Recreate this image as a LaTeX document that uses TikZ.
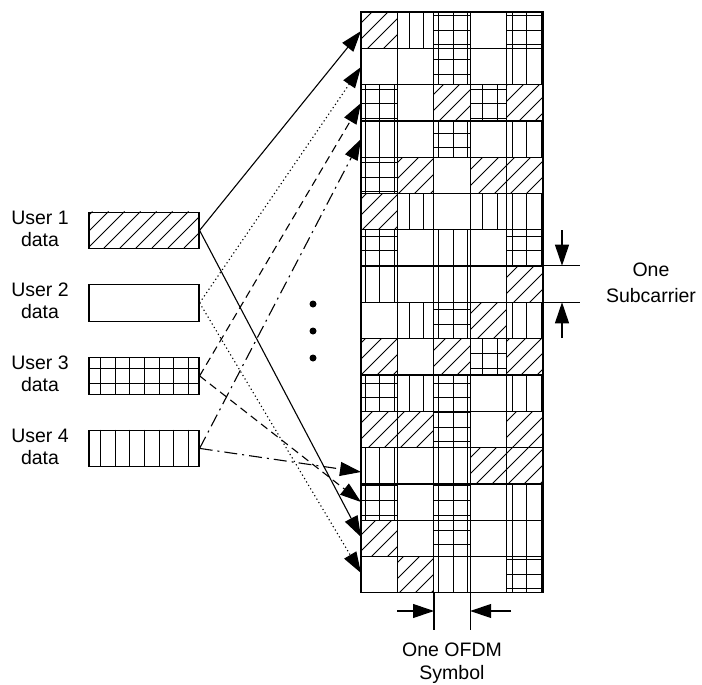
\documentclass[tikz,border=0pt]{standalone}
\usepackage{fontspec}
\setmainfont{Liberation Sans}
\usetikzlibrary{arrows.meta}
\tikzset{
  cellbox/.style={draw=black, line width=1.3pt},
  patline/.style={draw=black, line width=0.9pt},
  userbox/.style={draw=black, line width=1.3pt, minimum width=110pt, minimum height=36.5pt, inner sep=0pt},
  tip/.style={-{Triangle[length=21pt,width=14pt]}},
  link/.style={line width=1.1pt, tip},
  solidlink/.style={link},
  dotlink/.style={link, dash pattern=on 1.2pt off 2.8pt},
  dashlink/.style={link, dash pattern=on 8pt off 5pt},
  dashdotlink/.style={link, dash pattern=on 13pt off 5pt on 2pt off 5pt},
  marker/.style={line width=1.1pt},
  lbl/.style={align=center, inner sep=0pt, font=\fontsize{19.5}{22}\selectfont},
  dotmark/.style={circle, fill=black, inner sep=0pt, minimum size=7pt}
}
% vertical pattern lines on a global lattice x = 365 + 14.7k
\newcommand\patVert[4]{%
  \begin{scope}
    \clip (#1,#2) rectangle ++(#3,#4);
    \pgfmathtruncatemacro\ka{floor((#1-365)/14.7)}%
    \pgfmathtruncatemacro\kb{ceil((#1+#3-365)/14.7)}%
    \foreach \k in {\ka,...,\kb}{\draw[patline] ({365+14.7*\k},#2) -- ++(0,#4);}
  \end{scope}}
% horizontal pattern lines on a global lattice y = 383 + 14.7k
\newcommand\patHoriz[4]{%
  \begin{scope}
    \clip (#1,#2) rectangle ++(#3,#4);
    \pgfmathtruncatemacro\ka{floor((#2-383)/14.7)}%
    \pgfmathtruncatemacro\kb{ceil((#2+#4-383)/14.7)}%
    \foreach \k in {\ka,...,\kb}{\draw[patline] (#1,{383+14.7*\k}) -- ++(#3,0);}
  \end{scope}}
% diagonal hatching x + y = 16k
\newcommand\patDiag[4]{%
  \begin{scope}
    \clip (#1,#2) rectangle ++(#3,#4);
    \pgfmathtruncatemacro\ka{floor((#1+#2)/16)}%
    \pgfmathtruncatemacro\kb{ceil((#1+#3+#2+#4)/16)}%
    \foreach \k in {\ka,...,\kb}{\draw[patline] ({16*\k-#2-#4},{#2+#4}) -- ({16*\k-#2},#2);}
  \end{scope}}
\newcommand\cellH[4]{\patDiag{#1}{#2}{#3}{#4}}
\newcommand\cellV[4]{\patVert{#1}{#2}{#3}{#4}}
\newcommand\cellG[4]{\patVert{#1}{#2}{#3}{#4}\patHoriz{#1}{#2}{#3}{#4}}
\newcommand\cellB[4]{}
\begin{document}
\begin{tikzpicture}[x=1pt, y=-1pt]
\useasboundingbox (0,0) rectangle (702,685);

% ---------- resource grid ----------
\foreach \t [count=\n from 0] in {%
H,V,G,B,G,%
B,B,G,B,V,%
G,B,H,G,H,%
V,B,G,B,V,%
G,H,B,H,H,%
H,V,B,V,V,%
G,B,V,B,G,%
V,B,V,B,H,%
B,V,G,H,V,%
H,B,H,G,H,%
G,V,G,B,V,%
H,H,G,B,H,%
V,B,V,H,H,%
G,B,G,B,V,%
H,B,G,B,V,%
B,H,V,B,G}{%
  \pgfmathtruncatemacro\rr{floor(\n/5)}%
  \pgfmathtruncatemacro\cc{mod(\n,5)}%
  \pgfmathsetmacro\cx{361+36.4*\cc}%
  \pgfmathsetmacro\cy{12+36.3*\rr}%
  \csname cell\t\endcsname{\cx}{\cy}{36.4}{36.3}%
  \draw[cellbox] (\cx,\cy) rectangle ++(36.4,36.3);
}
\draw[cellbox] (361,12) rectangle (543,592.8);

% ---------- user data boxes ----------
\cellH{88.3}{211.5}{110}{36.5}
\cellG{88.3}{357}{110}{36.5}
\cellV{88.3}{429.5}{110}{36.5}
\node[userbox, anchor=north west] (box1) at (88.3,211.5) {};
\node[userbox, anchor=north west] (box2) at (88.3,284) {};
\node[userbox, anchor=north west] (box3) at (88.3,357) {};
\node[userbox, anchor=north west] (box4) at (88.3,429.5) {};

\node[lbl] (lab1) at (40,228.5) {User 1\\data};
\node[lbl] (lab2) at (40,301) {User 2\\data};
\node[lbl] (lab3) at (40,374) {User 3\\data};
\node[lbl] (lab4) at (40,446.5) {User 4\\data};

% ---------- target points on the grid ----------
\coordinate (t0) at (361,31);
\coordinate (t1) at (361,67);
\coordinate (t2) at (361,103);
\coordinate (t3) at (361,139);
\coordinate (t12) at (361,472);
\coordinate (t13) at (361,502);
\coordinate (t14) at (361,537);
\coordinate (t15) at (361,573);

\draw[solidlink] (box1.east) -- (t0);
\draw[solidlink] (box1.east) -- (t14);
\draw[dotlink] (box2.east) -- (t1);
\draw[dotlink] (box2.east) -- (t15);
\draw[dashlink] (box3.east) -- (t2);
\draw[dashlink] (box3.east) -- (t13);
\draw[dashdotlink] (box4.east) -- (t3);
\draw[dashdotlink] (box4.east) -- (t12);

% ---------- vertical ellipsis ----------
\node[dotmark] (d1) at (313,304) {};
\node[dotmark] (d2) at (313,331) {};
\node[dotmark] (d3) at (313,358) {};

% ---------- one subcarrier ----------
\coordinate (sa) at (543,265.7);
\coordinate (sae) at (580,265.7);
\coordinate (sb) at (543,302.3);
\coordinate (sbe) at (580,302.3);
\coordinate (sat) at (562,230);
\coordinate (sah) at (562,265.7);
\coordinate (sbt) at (562,338);
\coordinate (sbh) at (562,302.3);
\draw[marker] (sa) -- (sae);
\draw[marker] (sb) -- (sbe);
\draw[marker, tip] (sat) -- (sah);
\draw[marker, tip] (sbt) -- (sbh);
\node[lbl, font=\fontsize{19.5}{26}\selectfont] (sclabel) at (651,282.6) {One\\Subcarrier};

% ---------- one OFDM symbol ----------
\coordinate (oa) at (434,592.8);
\coordinate (oae) at (434,630);
\coordinate (ob) at (470.2,592.8);
\coordinate (obe) at (470.2,630);
\coordinate (oat) at (397,611);
\coordinate (oah) at (434,611);
\coordinate (obt) at (511,611);
\coordinate (obh) at (470.2,611);
\draw[marker] (oa) -- (oae);
\draw[marker] (ob) -- (obe);
\draw[marker, tip] (oat) -- (oah);
\draw[marker, tip] (obt) -- (obh);
\node[lbl, font=\fontsize{19.5}{23}\selectfont] (oflabel) at (452,663.5) {One OFDM\\Symbol};
\end{tikzpicture}
\end{document}
